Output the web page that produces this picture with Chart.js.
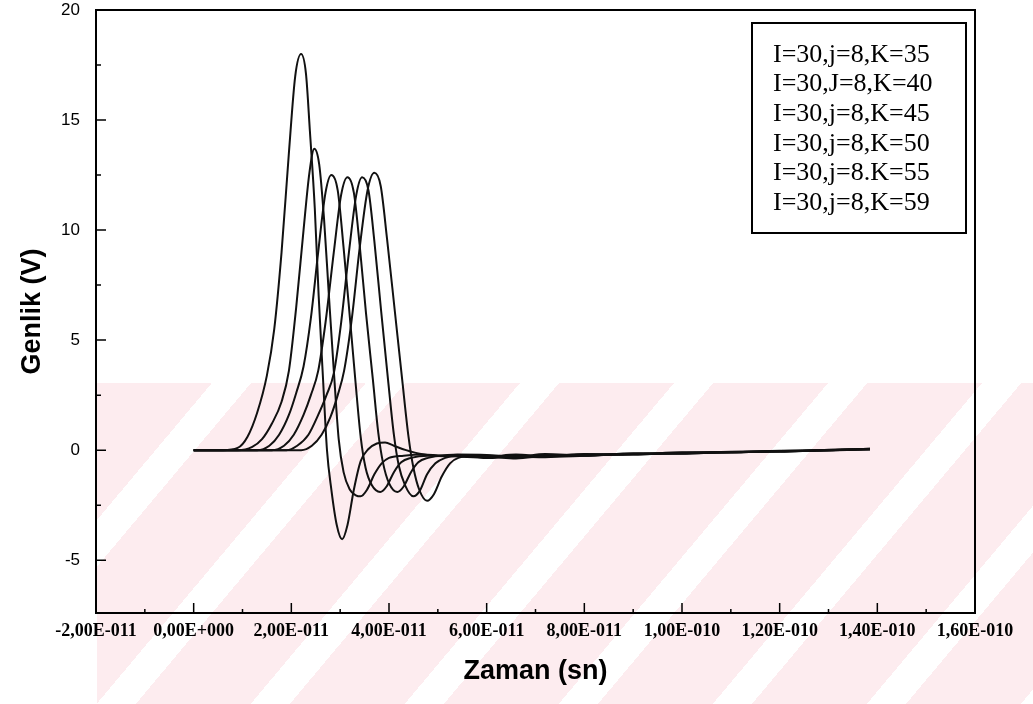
<!DOCTYPE html>
<html>
<head>
<meta charset="utf-8">
<script src="https://cdn.jsdelivr.net/npm/chart.js@4.4.1/dist/chart.umd.min.js"></script>
<style>
  html, body { margin: 0; padding: 0; background: #fff; }
  #wrap { position: relative; width: 1033px; height: 704px; overflow: hidden; }
  /* faint pink watermark in the lower half of the scan */
  #wm { position: absolute; left: 97px; top: 383px; width: 936px; height: 321px;
        background: repeating-linear-gradient(130deg, #fdecef 0 88px, #ffffff 88px 118px); }
  #pulseChart { position: absolute; left: 0; top: 0; }
</style>
</head>
<body>
<div id="wrap">
  <div id="wm"></div>
  <canvas id="pulseChart" width="1033" height="704"></canvas>
</div>
<script>
// time in units of 1E-11 s, amplitude in V
const seriesLabels = ['I=30,j=8,K=35', 'I=30,J=8,K=40', 'I=30,j=8,K=45', 'I=30,j=8,K=50', 'I=30,j=8.K=55', 'I=30,j=8,K=59'];

const tK35 = [0, 0.6, 0.9, 1.1, 1.3, 1.5, 1.65, 1.8, 1.95, 2.08, 2.2, 2.3, 2.38, 2.48, 2.56, 2.65, 2.73, 2.82, 2.93, 3.04, 3.15, 3.28, 3.42, 3.58, 3.75, 3.92, 4.1, 4.35, 4.6, 5.0, 5.4];
const vK35 = [0, 0, 0.1, 0.6, 1.7, 3.4, 5.5, 9.0, 13.5, 17.0, 18.0, 17.1, 14.5, 11.0, 7.0, 3.2, 0, -1.8, -3.4, -4.05, -3.4, -1.8, -0.5, 0.05, 0.3, 0.35, 0.2, 0, -0.15, -0.25, -0.2];

const tK40 = [0, 0.9, 1.2, 1.4, 1.6, 1.8, 1.95, 2.1, 2.25, 2.37, 2.47, 2.57, 2.67, 2.77, 2.87, 2.97, 3.07, 3.2, 3.32, 3.42, 3.55, 3.7, 3.85, 4.0, 4.3, 4.7, 5.1, 5.5];
const vK40 = [0, 0, 0.15, 0.5, 1.2, 2.2, 3.6, 6.5, 10.0, 12.6, 13.7, 13.0, 10.5, 7.0, 3.6, 0.5, -1.0, -1.8, -2.05, -2.1, -1.8, -1.1, -0.6, -0.35, -0.25, -0.2, -0.25, -0.22];

const tK45 = [0, 1.3, 1.55, 1.75, 1.95, 2.1, 2.25, 2.4, 2.55, 2.7, 2.82, 2.95, 3.07, 3.2, 3.31, 3.42, 3.52, 3.65, 3.82, 3.95, 4.1, 4.25, 4.45, 4.8, 5.2, 5.6];
const vK45 = [0, 0, 0.2, 0.7, 1.6, 2.6, 3.8, 6.0, 9.0, 11.7, 12.5, 11.8, 9.2, 6.0, 3.2, 0.6, -0.8, -1.6, -1.9, -1.65, -1.0, -0.55, -0.35, -0.25, -0.28, -0.25];

const tK50 = [0, 1.6, 1.85, 2.05, 2.25, 2.4, 2.55, 2.7, 2.87, 3.02, 3.15, 3.28, 3.4, 3.53, 3.67, 3.78, 3.88, 4.0, 4.17, 4.3, 4.45, 4.6, 4.8, 5.1, 5.5];
const vK50 = [0, 0, 0.2, 0.7, 1.6, 2.5, 3.6, 5.8, 9.0, 11.6, 12.4, 11.7, 9.3, 6.2, 3.2, 0.8, -0.6, -1.5, -1.9, -1.65, -1.0, -0.55, -0.35, -0.25, -0.3];

const tK55 = [0, 1.9, 2.12, 2.35, 2.55, 2.72, 2.87, 3.02, 3.18, 3.33, 3.45, 3.58, 3.7, 3.84, 3.98, 4.1, 4.2, 4.33, 4.5, 4.63, 4.78, 4.95, 5.15, 5.4, 5.7];
const vK55 = [0, 0, 0.2, 0.7, 1.6, 2.5, 3.5, 5.8, 9.0, 11.6, 12.4, 11.8, 9.5, 6.3, 3.2, 0.7, -0.7, -1.6, -2.1, -1.85, -1.1, -0.6, -0.35, -0.25, -0.3];

const tK59 = [0, 2.2, 2.42, 2.62, 2.8, 2.95, 3.08, 3.24, 3.4, 3.56, 3.7, 3.83, 3.96, 4.12, 4.27, 4.4, 4.5, 4.62, 4.78, 4.92, 5.08, 5.25, 5.42, 5.7];
const vK59 = [0, 0, 0.2, 0.7, 1.5, 2.5, 3.6, 6.0, 9.2, 11.8, 12.6, 12.0, 9.6, 6.3, 3.2, 0.6, -0.8, -1.8, -2.3, -2.0, -1.2, -0.6, -0.35, -0.28];

// long noisy tail, all six curves crowd together near zero
const tailTime = [6.0, 6.6, 7.2, 8.0, 9.0, 10.0, 11.0, 12.0, 13.0, 13.85];
const tailK35 = [-0.22, -0.30, -0.18, -0.24, -0.16, -0.14, -0.09, -0.05, -0.02, 0.04];
const tailK40 = [-0.30, -0.20, -0.28, -0.18, -0.20, -0.10, -0.10, -0.04, 0.00, 0.06];
const tailK45 = [-0.26, -0.34, -0.22, -0.26, -0.14, -0.16, -0.07, -0.06, 0.01, 0.03];
const tailK50 = [-0.34, -0.24, -0.30, -0.20, -0.18, -0.12, -0.11, -0.03, -0.01, 0.05];
const tailK55 = [-0.28, -0.38, -0.26, -0.22, -0.20, -0.13, -0.08, -0.07, 0.02, 0.04];
const tailK59 = [-0.36, -0.30, -0.32, -0.26, -0.17, -0.15, -0.10, -0.04, 0.00, 0.06];

const yTickValues = [-5, 0, 5, 10, 15, 20];

function toPoints(t, v, tail) {
  const xs = t.concat(tailTime);
  const ys = v.concat(tail);
  return xs.map((x, i) => ({x: x, y: ys[i]}));
}

// 2 -> "2,00E-011", 0 -> "0,00E+000"
function sciLabel(val) {
  if (Math.abs(val) < 1e-9) return '0,00E+000';
  const real = val * 1e-11;
  const exp = Math.floor(Math.log10(Math.abs(real)) + 1e-9);
  const man = real / Math.pow(10, exp);
  return man.toFixed(2).replace('.', ',') + 'E' + (exp < 0 ? '-' : '+') + String(Math.abs(exp)).padStart(3, '0');
}

const curves = [
  toPoints(tK35, vK35, tailK35),
  toPoints(tK40, vK40, tailK40),
  toPoints(tK45, vK45, tailK45),
  toPoints(tK50, vK50, tailK50),
  toPoints(tK55, vK55, tailK55),
  toPoints(tK59, vK59, tailK59),
];

// box frame with inward ticks
const framePlugin = {
  id: 'frame',
  afterDraw(chart) {
    const {ctx, chartArea: a, scales: {x, y}} = chart;
    ctx.save();
    ctx.strokeStyle = '#000';
    ctx.lineWidth = 2;
    ctx.strokeRect(a.left, a.top, a.right - a.left, a.bottom - a.top);
    ctx.lineWidth = 1.5;
    ctx.beginPath();
    x.ticks.forEach(t => {
      const px = x.getPixelForValue(t.value);
      ctx.moveTo(px, a.bottom); ctx.lineTo(px, a.bottom - 10);
      if (t.value + 1 < x.max) {
        const pm = x.getPixelForValue(t.value + 1);
        ctx.moveTo(pm, a.bottom); ctx.lineTo(pm, a.bottom - 4);
      }
    });
    y.ticks.forEach((t, i) => {
      const py = y.getPixelForValue(t.value);
      ctx.moveTo(a.left, py); ctx.lineTo(a.left + 10, py);
      const mins = [t.value + 2.5];
      if (i === 0) mins.push(t.value - 2.5);
      mins.forEach(m => {
        if (m > y.min && m < y.max) {
          const pm = y.getPixelForValue(m);
          ctx.moveTo(a.left, pm); ctx.lineTo(a.left + 5, pm);
        }
      });
    });
    ctx.stroke();
    ctx.restore();
  }
};

// legend: plain text lines in a box, no line samples
const legendBox = {
  id: 'legendBox',
  afterDraw(chart) {
    const {ctx, chartArea: a} = chart;
    const x0 = a.right - 223, y0 = a.top + 13, w = 214, h = 210;
    ctx.save();
    ctx.fillStyle = '#fff';
    ctx.fillRect(x0, y0, w, h);
    ctx.strokeStyle = '#000';
    ctx.lineWidth = 2;
    ctx.strokeRect(x0, y0, w, h);
    ctx.fillStyle = '#000';
    ctx.font = '26px "Liberation Serif", "DejaVu Serif", serif';
    ctx.textBaseline = 'middle';
    chart.data.datasets.forEach((d, i) => {
      ctx.fillText(d.label, x0 + 21, y0 + 32 + i * 29.6);
    });
    ctx.restore();
  }
};

new Chart(document.getElementById('pulseChart'), {
  type: 'line',
  data: {
    datasets: curves.map((pts, i) => ({
      label: seriesLabels[i],
      data: pts,
      borderColor: '#111',
      borderWidth: 2,
      pointRadius: 0,
      fill: false,
      cubicInterpolationMode: 'monotone',
    })),
  },
  options: {
    responsive: false,
    animation: false,
    layout: {
      padding: { left: 0, right: 58, top: 10, bottom: 0 },
    },
    plugins: {
      legend: { display: false },
      tooltip: { enabled: false },
    },
    scales: {
      x: {
        type: 'linear',
        min: -2,
        max: 16,
        grid: { display: false, drawTicks: false },
        border: { display: false },
        ticks: {
          stepSize: 2,
          autoSkip: false,
          maxRotation: 0,
          padding: 8,
          color: '#000',
          font: { family: '"Liberation Serif", serif', size: 18, weight: 'bold' },
          callback: (v) => sciLabel(v),
        },
        title: {
          display: true,
          text: 'Zaman (sn)',
          color: '#000',
          padding: 16,
          font: { family: '"Liberation Sans", Arial, sans-serif', size: 27, weight: 'bold' },
        },
        afterFit(scale) {
          scale.height = 91;
          scale.paddingLeft = 0;
          scale.paddingRight = 0;
        },
      },
      y: {
        type: 'linear',
        min: -7.4,
        max: 20,
        grid: { display: false, drawTicks: false },
        border: { display: false },
        afterBuildTicks(scale) {
          scale.ticks = yTickValues.map(v => ({value: v}));
        },
        ticks: {
          padding: 16,
          color: '#000',
          font: { family: '"Liberation Sans", Arial, sans-serif', size: 17 },
        },
        title: {
          display: true,
          text: 'Genlik (V)',
          color: '#000',
          padding: 16,
          font: { family: '"Liberation Sans", Arial, sans-serif', size: 27, weight: 'bold' },
        },
        afterFit(scale) {
          scale.width = 96;
          scale.paddingTop = 0;
          scale.paddingBottom = 0;
        },
      },
    },
  },
  plugins: [framePlugin, legendBox],
});
</script>
</body>
</html>
